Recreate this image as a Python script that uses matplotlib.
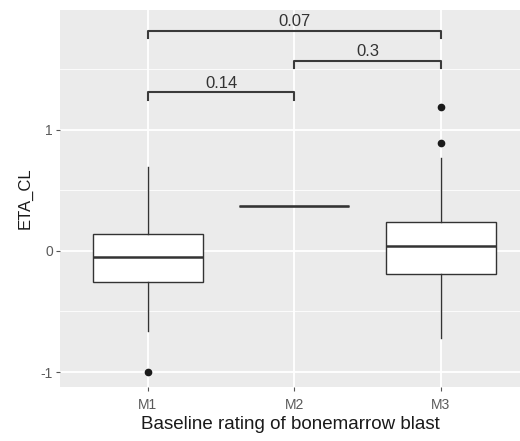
import numpy as np
import matplotlib
matplotlib.use("Agg")
import matplotlib.pyplot as plt

plt.rcParams['font.family'] = ['Liberation Sans', 'DejaVu Sans']

# box statistics
groups = ["M1", "M2", "M3"]
whislo = [-0.66, 0.37, -0.72]
q1 = [-0.26, 0.37, -0.19]
med = [-0.05, 0.37, 0.04]
q3 = [0.14, 0.37, 0.235]
whishi = [0.69, 0.37, 0.77]
outliers = [[-1.0], [], [1.19, 0.89]]

# pairwise comparison brackets: (from, to, label, height)
pair_from = [0, 1, 0]
pair_to = [2, 2, 1]
pair_label = ["0.07", "0.3", "0.14"]
pair_y = [1.82, 1.57, 1.31]

fig = plt.figure(figsize=(5.2, 4.41), dpi=100)
ax = fig.add_axes([0.1154, 0.1224, 0.8846, 0.8549])
ax.set_facecolor("#EBEBEB")

pos = np.arange(1, len(groups) + 1)
stats = []
for i, g in enumerate(groups):
    stats.append(dict(label=g, whislo=whislo[i], q1=q1[i], med=med[i],
                      q3=q3[i], whishi=whishi[i], fliers=outliers[i]))

ax.bxp(stats, positions=pos, widths=0.75, patch_artist=True, showcaps=False,
       boxprops=dict(facecolor="white", edgecolor="#333333", linewidth=1.0),
       medianprops=dict(color="#333333", linewidth=1.8),
       whiskerprops=dict(color="#333333", linewidth=1.0),
       flierprops=dict(marker="o", markerfacecolor="#1a1a1a",
                       markeredgecolor="#1a1a1a", markersize=4.5),
       zorder=3)

for a, b, lab, y in zip(pair_from, pair_to, pair_label, pair_y):
    x0, x1 = pos[a], pos[b]
    tick = 0.06
    ax.plot([x0, x0, x1, x1], [y - tick, y, y, y - tick],
            color="#3a3a3a", linewidth=1.5, zorder=3)
    ax.text((x0 + x1) / 2, y + 0.012, lab, ha="center", va="bottom",
            fontsize=12, color="#333333")

ax.set_xlim(0.4, 3.54)
ax.set_ylim(-1.124, 1.99)
ax.set_yticks([-1, 0, 1])
ax.set_yticks([-0.5, 0.5, 1.5], minor=True)
ax.set_yticklabels(["-1", "0", "1"])
ax.set_xticks(pos)
ax.set_xticklabels(groups)

ax.grid(which="major", color="white", linewidth=1.3, zorder=0)
ax.grid(which="minor", axis="y", color="white", linewidth=0.6, zorder=0)
ax.set_axisbelow(True)
for s in ax.spines.values():
    s.set_visible(False)

ax.tick_params(axis="both", which="major", length=3, width=0.8,
               color="#555555", labelcolor="#5a5a5a", labelsize=10, pad=2)
ax.tick_params(axis="x", which="major", pad=5)
ax.tick_params(axis="y", which="minor", length=0)

ax.set_xlabel("Baseline rating of bonemarrow blast", fontsize=13.5,
              color="#1a1a1a", labelpad=3)
ax.set_ylabel("ETA_CL", fontsize=12, color="#1a1a1a", labelpad=6)

fig.savefig("out.png", dpi=100)
